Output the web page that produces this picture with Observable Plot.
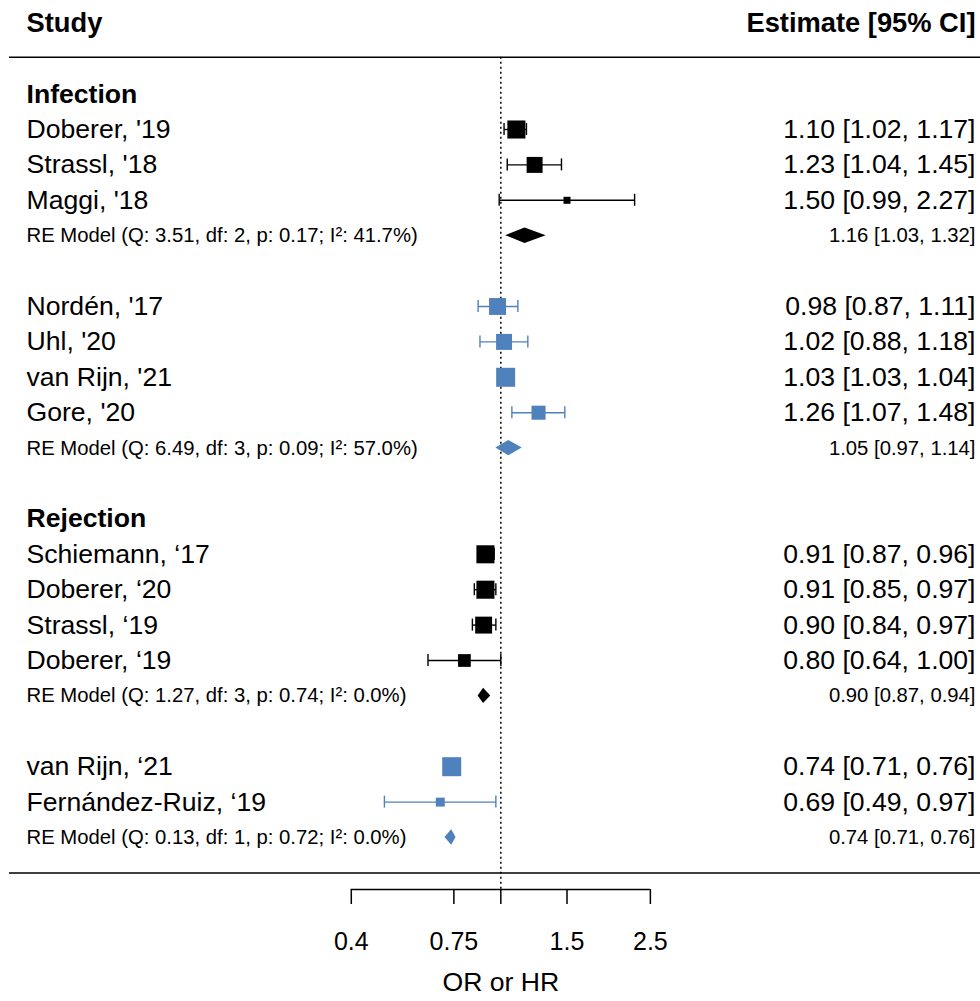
<!DOCTYPE html>
<html><head><meta charset="utf-8">
<script src="https://cdn.jsdelivr.net/npm/d3@7"></script>
<script src="https://cdn.jsdelivr.net/npm/@observablehq/plot@0.6"></script>
<style>html,body{margin:0;padding:0;background:#fff;overflow:hidden}</style>
</head><body><div id="chart"></div>
<script>
// ---- data ----
const studies = ["Doberer, '19", "Strassl, '18", "Maggi, '18",
  "Nordén, '17", "Uhl, '20", "van Rijn, '21", "Gore, '20",
  "Schiemann, \u201817", "Doberer, \u201820", "Strassl, \u201819", "Doberer, \u201819",
  "van Rijn, \u201821", "Fernández-Ruiz, \u201819"];
const studyRows = [21, 20, 19, 16, 15, 14, 13, 9, 8, 7, 6, 3, 2];
const estimates = [1.10, 1.23, 1.50, 0.98, 1.02, 1.03, 1.26, 0.91, 0.91, 0.90, 0.80, 0.74, 0.69];
const lowers    = [1.02, 1.04, 0.99, 0.87, 0.88, 1.03, 1.07, 0.87, 0.85, 0.84, 0.64, 0.71, 0.49];
const uppers    = [1.17, 1.45, 2.27, 1.11, 1.18, 1.04, 1.48, 0.96, 0.97, 0.97, 1.00, 0.76, 0.97];
const weights   = [0.95, 0.84, 0.37, 0.89, 0.84, 1.00, 0.74, 0.95, 0.95, 0.89, 0.67, 1.00, 0.47];
const studyGroup = ["A","A","A","B","B","B","B","A","A","A","A","B","B"];

const modelLabels = [
  "RE Model (Q: 3.51, df: 2, p: 0.17; I\u00b2: 41.7%)",
  "RE Model (Q: 6.49, df: 3, p: 0.09; I\u00b2: 57.0%)",
  "RE Model (Q: 1.27, df: 3, p: 0.74; I\u00b2: 0.0%)",
  "RE Model (Q: 0.13, df: 1, p: 0.72; I\u00b2: 0.0%)"];
const modelRows = [18, 12, 5, 1];
const modelEst = [1.16, 1.05, 0.90, 0.74];
const modelLo  = [1.03, 0.97, 0.87, 0.71];
const modelHi  = [1.32, 1.14, 0.94, 0.76];
const modelGroup = ["A","B","A","B"];

const headings = ["Infection", "Rejection"];
const headingRows = [22, 10];

const tickValues = [0.4, 0.75, 1, 1.5, 2.5];
const tickLabels = ["0.4", "0.75", "", "1.5", "2.5"];
const xLabel = "OR or HR";
const headerLeft = "Study", headerRight = "Estimate [95% CI]";

// ---- layout constants ----
const W = 980, H = 1001;
const rowPx = 35.4;
const yTop = 872.4 / rowPx, yBot = (872.4 - H) / rowPx;
const headerRow = 24, topLineRow = 23.04, bottomLineRow = 0;
const axisRow = -0.47, tickLabelRow = -1.96, xLabelRow = -3.1;
const colors = {A: "#000000", B: "#4F81BD"};
const f2 = d3.format(".2f");

const S = studies.map((s, i) => ({
  name: s, row: studyRows[i], est: estimates[i], lo: lowers[i], hi: uppers[i],
  w: weights[i], col: colors[studyGroup[i]],
  txt: `${f2(estimates[i])} [${f2(lowers[i])}, ${f2(uppers[i])}]`
}));
const M = modelLabels.map((s, i) => ({
  name: s, row: modelRows[i], est: modelEst[i], lo: modelLo[i], hi: modelHi[i],
  col: colors[modelGroup[i]],
  txt: `${f2(modelEst[i])} [${f2(modelLo[i])}, ${f2(modelHi[i])}]`
}));
const dh = 7.7 / rowPx;
const diamonds = M.flatMap((m, i) => [
  {x: m.lo, y1: m.row, y2: m.row, z: i, col: m.col},
  {x: m.est, y1: m.row - dh, y2: m.row + dh, z: i, col: m.col},
  {x: m.hi, y1: m.row, y2: m.row, z: i, col: m.col}
]);
const cap = 6 / rowPx;
const maxSide = 19;
const ticks = tickValues.map((v, i) => ({v, label: tickLabels[i]}));

const chart = Plot.plot({
  width: W, height: H,
  marginTop: 0, marginBottom: 0, marginLeft: 0, marginRight: 0,
  x: {type: "log", domain: [0.04662, 18.90], range: [0, W], axis: null},
  y: {domain: [yBot, yTop], range: [H, 0], axis: null},
  r: {type: "linear", domain: [0, 1], range: [0, maxSide / Math.sqrt(Math.PI)]},
  style: {fontFamily: "'Liberation Sans', Arial, Helvetica, sans-serif", background: "#fff", color: "#000"},
  marks: [
    Plot.ruleY([topLineRow, bottomLineRow], {stroke: "#000", strokeWidth: 1.5, insetLeft: 9}),
    Plot.ruleX([1], {y1: topLineRow, y2: axisRow, stroke: "#000", strokeWidth: 1.5, strokeDasharray: "2,3"}),
    Plot.link(S, {x1: "lo", x2: "hi", y1: "row", y2: "row", stroke: "col", strokeWidth: 1.4}),
    Plot.ruleX(S, {x: "lo", y1: d => d.row - cap, y2: d => d.row + cap, stroke: "col", strokeWidth: 1.4}),
    Plot.ruleX(S, {x: "hi", y1: d => d.row - cap, y2: d => d.row + cap, stroke: "col", strokeWidth: 1.4}),
    Plot.dot(S, {x: "est", y: "row", r: "w", symbol: "square", fill: "col", stroke: "none"}),
    Plot.area(diamonds, {x1: "x", y1: "y1", y2: "y2", z: "z", fill: "col", stroke: "none"}),
    Plot.text([headerLeft], {text: d => d, frameAnchor: "left", y: () => headerRow, dx: 26, textAnchor: "start", fontSize: 27.3, fontWeight: "bold", fill: "#000"}),
    Plot.text([headerRight], {text: d => d, frameAnchor: "right", y: () => headerRow, dx: -5, textAnchor: "end", fontSize: 27.3, fontWeight: "bold", fill: "#000"}),
    Plot.text(headings, {text: d => d, frameAnchor: "left", y: (d, i) => headingRows[i], dx: 26, textAnchor: "start", fontSize: 26.6, fontWeight: "bold", fill: "#000"}),
    Plot.text(S, {text: "name", frameAnchor: "left", y: "row", dx: 26, textAnchor: "start", fontSize: 26.6, fill: "#000"}),
    Plot.text(S, {text: "txt", frameAnchor: "right", y: "row", dx: -5, textAnchor: "end", fontSize: 26.6, fill: "#000"}),
    Plot.text(M, {text: "name", frameAnchor: "left", y: "row", dx: 26, textAnchor: "start", fontSize: 20.3, fill: "#000"}),
    Plot.text(M, {text: "txt", frameAnchor: "right", y: "row", dx: -5, textAnchor: "end", fontSize: 20.3, fill: "#000"}),
    Plot.ruleY([axisRow], {x1: tickValues[0], x2: tickValues[tickValues.length - 1], stroke: "#000", strokeWidth: 1.5}),
    Plot.ruleX(ticks, {x: "v", y1: axisRow, y2: axisRow - 15 / rowPx, stroke: "#000", strokeWidth: 1.5}),
    Plot.text(ticks, {x: "v", y: () => tickLabelRow, text: "label", fontSize: 25, fill: "#000"}),
    Plot.text([xLabel], {x: () => 1, y: () => xLabelRow, text: d => d, fontSize: 26.6, fill: "#000"})
  ]
});
document.getElementById("chart").appendChild(chart);
</script>
</body></html>
